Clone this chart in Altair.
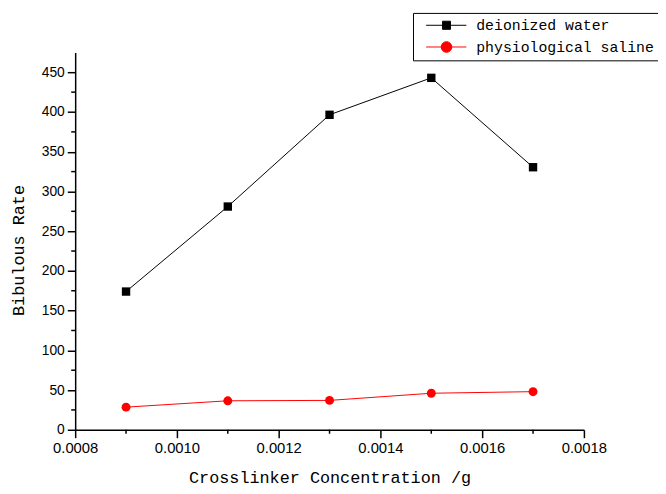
import altair as alt
import pandas as pd

# ---- data ----
concentration = [0.0009, 0.0011, 0.0013, 0.0015, 0.0017]
deionized_water = [174, 281, 396.5, 443, 330.5]
physiological_saline = [28.5, 36.5, 37, 46, 48]
series_names = ["deionized water", "physiological saline"]
series_colors = ["black", "red"]

x_major = [0.0008, 0.0010, 0.0012, 0.0014, 0.0016, 0.0018]
x_minor = [0.0009, 0.0011, 0.0013, 0.0015, 0.0017]
y_major = [0, 50, 100, 150, 200, 250, 300, 350, 400, 450]
y_minor = [25, 75, 125, 175, 225, 275, 325, 375, 425]

PLOT_W, PLOT_H = 515, 382

rows = []
for c, v in zip(concentration, deionized_water):
    rows.append({"conc": c, "rate": v, "series": series_names[0]})
for c, v in zip(concentration, physiological_saline):
    rows.append({"conc": c, "rate": v, "series": series_names[1]})
df = pd.DataFrame(rows)

x_scale = alt.Scale(domain=[0.0008, 0.0018], nice=False, zero=False)
y_scale = alt.Scale(domain=[0, 475], nice=False)

x_axis = alt.Axis(
    values=x_major, format=".4f", grid=False,
    tickSize=8, tickWidth=1.5, tickColor="black",
    domainWidth=1.5, domainColor="black",
    labelFont="Liberation Sans", labelFontSize=15, labelColor="black", labelPadding=3,
    labelFlush=False,
    titleFont="Liberation Mono", titleFontSize=17, titleFontWeight="normal", titleColor="black",
    titleY=48, titleBaseline="middle",
)
y_axis = alt.Axis(
    values=y_major, grid=False,
    tickSize=8, tickWidth=1.5, tickColor="black",
    domainWidth=1.5, domainColor="black",
    labelFont="Liberation Sans", labelFontSize=14, labelColor="black", labelPadding=3,
    labelFlush=False,
    titleFont="Liberation Mono", titleFontSize=17, titleFontWeight="normal", titleColor="black",
    titleX=-57, titleY=200, titleAngle=-90, titleAlign="center", titleBaseline="middle",
)

def X():
    return alt.X("conc:Q", scale=x_scale, axis=x_axis, title="Crosslinker Concentration /g")

def Y():
    return alt.Y("rate:Q", scale=y_scale, axis=y_axis, title="Bibulous Rate")

base = alt.Chart(df)

lines = base.mark_line(strokeWidth=1).encode(
    x=X(), y=Y(),
    color=alt.Color("series:N", scale=alt.Scale(domain=series_names, range=series_colors), legend=None),
)

squares = base.transform_filter(alt.datum.series == series_names[0]).mark_point(
    shape="square", filled=True, size=72, color=series_colors[0], opacity=1
).encode(x=X(), y=Y())

circles = base.transform_filter(alt.datum.series == series_names[1]).mark_point(
    shape="circle", filled=True, size=82, color=series_colors[1], opacity=1
).encode(x=X(), y=Y())

# legend symbols: a short line with the marker in its middle
path_square = "M0.16,0L8.3,0M3.48,-0.82L5.08,-0.82L5.08,0.82L3.48,0.82Z"
path_circle = "M0.16,0L8.3,0M5.35,0A1.07,1.07,0,1,1,3.21,0A1.07,1.07,0,1,1,5.35,0Z"

leg = alt.Legend(
    title=None, orient="none", legendX=342, legendY=-40,
    strokeColor="black", fillColor="white", padding=5,
    labelFont="Liberation Mono", labelFontSize=15, labelColor="black", labelLimit=0,
    labelOffset=44, symbolStrokeWidth=1, rowPadding=6, symbolSize=100, symbolOpacity=1,
)
legend_layer = base.mark_point(filled=True, opacity=0, size=100).encode(
    x=X(), y=Y(),
    fill=alt.Fill("series:N", scale=alt.Scale(domain=series_names, range=series_colors), legend=leg),
    stroke=alt.Stroke("series:N", scale=alt.Scale(domain=series_names, range=series_colors), legend=leg),
    shape=alt.Shape("series:N", scale=alt.Scale(domain=series_names, range=[path_square, path_circle]), legend=leg),
)

y_minor_df = pd.DataFrame({"rate": y_minor})
x_minor_df = pd.DataFrame({"conc": x_minor})

y_minor_ticks = alt.Chart(y_minor_df).mark_rule(color="black", strokeWidth=1.5).encode(
    y=Y(), x=alt.value(-4), x2=alt.value(0)
)
x_minor_ticks = alt.Chart(x_minor_df).mark_rule(color="black", strokeWidth=1.5).encode(
    x=X(), y=alt.value(PLOT_H), y2=alt.value(PLOT_H + 4)
)

chart = alt.layer(
    legend_layer, lines, squares, circles, y_minor_ticks, x_minor_ticks
).properties(
    width=PLOT_W, height=PLOT_H,
    autosize=alt.AutoSizeParams(type="none"),
    padding={"left": 68, "top": 42, "right": 75, "bottom": 60},
    background="white",
).configure_view(stroke=None)

chart.save("out.html", embed_options={"renderer": "svg", "actions": False})
